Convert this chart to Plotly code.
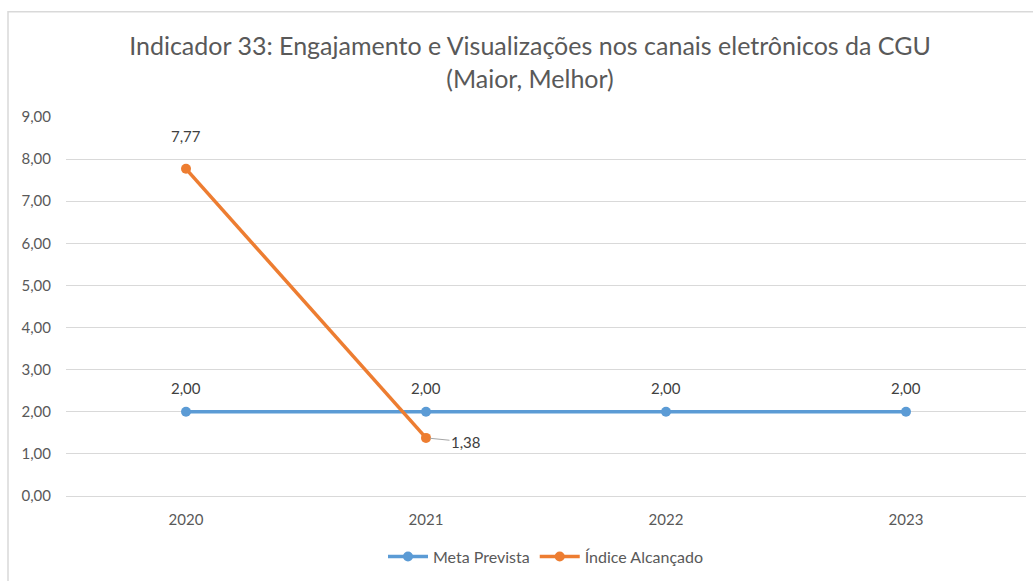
import plotly.graph_objects as go

# Chart data
anos = ["2020", "2021", "2022", "2023"]
meta_prevista = [2.00, 2.00, 2.00, 2.00]
indice_alcancado = [7.77, 1.38]
y_ticks = [0, 1, 2, 3, 4, 5, 6, 7, 8, 9]

AZUL = "#5B9BD5"
LARANJA = "#ED7D31"
TEXTO = "#595959"
ROTULO = "#404040"
FONTE = "Lato"


def fmt(v):
    return f"{v:.2f}".replace(".", ",")


fig = go.Figure()
fig.add_trace(go.Scatter(
    x=anos, y=meta_prevista, name="Meta Prevista", mode="lines+markers",
    line=dict(color=AZUL, width=3.5), marker=dict(color=AZUL, size=10),
))
fig.add_trace(go.Scatter(
    x=anos[:len(indice_alcancado)], y=indice_alcancado, name="Índice Alcançado",
    mode="lines+markers",
    line=dict(color=LARANJA, width=3.5), marker=dict(color=LARANJA, size=10),
))

annotations = []
# value labels above the target series (x given as category index)
for i, v in enumerate(meta_prevista):
    annotations.append(dict(x=i, y=v, xref="x", yref="y", text=fmt(v),
                            showarrow=False, yshift=24,
                            font=dict(family=FONTE, size=15, color=ROTULO)))
# first achieved value above its point
annotations.append(dict(x=0, y=indice_alcancado[0], xref="x", yref="y",
                        text=fmt(indice_alcancado[0]), showarrow=False, yshift=33,
                        font=dict(family=FONTE, size=15, color=ROTULO)))
# second achieved value to the right with a leader line
annotations.append(dict(x=1, y=indice_alcancado[1], xref="x", yref="y",
                        text=fmt(indice_alcancado[1]),
                        showarrow=True, arrowhead=0, arrowwidth=1, arrowcolor="#a6a6a6",
                        ax=40, ay=4, standoff=4,
                        font=dict(family=FONTE, size=15, color=ROTULO)))

fig.update_layout(
    width=1033, height=581,
    separators=",.",
    paper_bgcolor="white", plot_bgcolor="white",
    margin=dict(l=66, r=7, t=117, b=82),
    title=dict(
        text="Indicador 33: Engajamento e Visualizações nos canais eletrônicos da CGU<br>(Maior, Melhor)",
        x=530 / 1033, xanchor="center", xref="container",
        y=1 - 55 / 581, yanchor="middle", yref="container",
        font=dict(family=FONTE, size=25, color=TEXTO),
    ),
    xaxis=dict(
        type="category", range=[-0.5, 3.5], showgrid=False, showline=False,
        ticks="", ticklabelstandoff=13,
        tickfont=dict(family=FONTE, size=15, color=TEXTO),
    ),
    yaxis=dict(
        range=[0, 9], tickvals=y_ticks, tickformat=".2f",
        showgrid=True, gridcolor="#d9d9d9", gridwidth=1,
        zeroline=True, zerolinecolor="#d9d9d9", zerolinewidth=1,
        showline=False, ticks="", ticklabelstandoff=14,
        tickfont=dict(family=FONTE, size=15, color=TEXTO),
    ),
    legend=dict(
        orientation="h", x=0.5, xanchor="center", y=-0.16, yanchor="middle",
        font=dict(family=FONTE, size=16, color=TEXTO), itemwidth=40,
    ),
    annotations=annotations,
    shapes=[dict(type="rect", xref="paper", yref="paper",
                 x0=(8 - 66) / 960, x1=(1040 - 66) / 960,
                 y0=(499 - 600) / 382, y1=(499 - 11) / 382,
                 line=dict(color="#d9d9d9", width=1.5), fillcolor="rgba(0,0,0,0)",
                 layer="below")],
)

fig.write_html("out.html")
